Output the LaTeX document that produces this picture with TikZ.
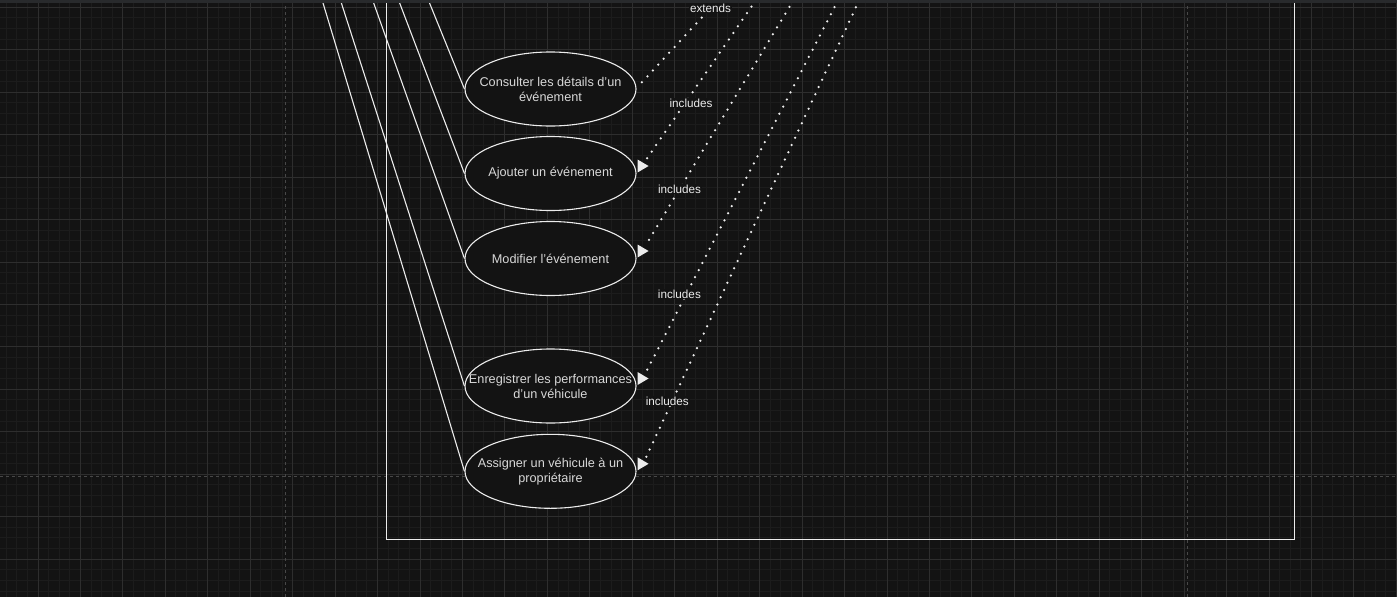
\documentclass[tikz,border=0pt]{standalone}
\usepackage{fontspec}
\setmainfont{Liberation Sans}
\usetikzlibrary{shapes.geometric}
\definecolor{canvas}{RGB}{19,19,19}
\definecolor{gridminor}{RGB}{28,28,28}
\definecolor{gridmajor}{RGB}{46,46,46}
\definecolor{pageline}{RGB}{72,72,72}
\definecolor{ink}{RGB}{236,236,236}
\definecolor{txt}{RGB}{216,216,216}
\definecolor{topbar}{RGB}{40,42,44}

\begin{document}
\begin{tikzpicture}[x=1pt,y=-1pt,
  uc/.style={ellipse,draw=ink,line width=1.1pt,fill=canvas,text=txt,inner sep=-30pt,
    minimum width=171pt,minimum height=74pt,align=center,font=\fontsize{12.7}{15}\selectfont},
  assoc/.style={draw=ink,line width=1.1pt},
  dep/.style={draw=ink,line width=2.5pt,line cap=round,dash pattern=on 0pt off 8pt},
  deplabel/.style={fill=canvas,text=ink,inner sep=1pt,font=\fontsize{11.7}{13}\selectfont}]
  \clip (0,0) rectangle (1397,597);
  % canvas and grid
  \fill[canvas] (0,0) rectangle (1397,597);
  \foreach \i in {0,...,132} \draw[gridminor,line width=1pt] ({-4.45+10.6125*\i},0) -- ++(0,597);
  \foreach \j in {0,...,57}  \draw[gridminor,line width=1pt] (0,{-3.3+10.6125*\j}) -- ++(1397,0);
  \foreach \i in {0,...,33}  \draw[gridmajor,line width=1pt] ({-4.45+42.45*\i},0) -- ++(0,597);
  \foreach \j in {0,...,14}  \draw[gridmajor,line width=1pt] (0,{7.3+42.45*\j}) -- ++(1397,0);
  % page borders
  \draw[pageline,line width=1pt,dash pattern=on 3pt off 3pt] (285.5,0) -- (285.5,597);
  \draw[pageline,line width=1pt,dash pattern=on 3pt off 3pt] (1187.5,0) -- (1187.5,597);
  \draw[pageline,line width=1pt,dash pattern=on 3pt off 3pt] (0,476.5) -- (1397,476.5);
  % system boundary
  \draw[ink,line width=1.3pt] (386.5,-20) rectangle (1294.5,539.5);
  % use cases
  \node[uc] (consulter)   at (550.5,89)    {Consulter les détails d'un\\événement};
  \node[uc] (ajouter)     at (550.5,173.5) {Ajouter un événement};
  \node[uc] (modifier)    at (550.5,258.5) {Modifier l'événement};
  \node[uc] (enregistrer) at (550.5,386)   {Enregistrer les performances\\d'un véhicule};
  \node[uc] (assigner)    at (550.5,471.3) {Assigner un véhicule à un\\propriétaire};
  % associations from the actor (above the view)
  \coordinate (aCons)  at (428.3,0);
  \coordinate (aAjout) at (398.5,0);
  \coordinate (aModif) at (372.6,0);
  \coordinate (aEnreg) at (340.4,0);
  \coordinate (aAssig) at (322.1,0);
  \draw[assoc] (aCons)  -- (consulter.west);
  \draw[assoc] (aAjout) -- (ajouter.west);
  \draw[assoc] (aModif) -- (modifier.west);
  \draw[assoc] (aEnreg) -- (enregistrer.west);
  \draw[assoc] (aAssig) -- (assigner.west);
  % extends / includes
  \coordinate (xCons)  at (718,0);
  \coordinate (iAjout) at (756,0);
  \coordinate (iModif) at (793.6,0);
  \coordinate (iEnreg) at (838.2,0);
  \coordinate (iAssig) at (859.3,0);
  \draw[dep] (xCons) -- node[deplabel,pos=.093] (lblX) {extends} ([shift={(1,-2)}]consulter.east);
  \foreach \top/\uc/\p/\dx/\nm in {iAjout/ajouter/.642/6/lblA, iModif/modifier/.77/0/lblM,
                                    iEnreg/enregistrer/.788/-7/lblE, iAssig/assigner/.875/-5/lblS}
    \draw[dep] (\top) -- node[deplabel,pos=\p,xshift=\dx] (\nm) {includes} ([shift={(9,-13)}]\uc.east);
  \foreach \uc in {ajouter,modifier,enregistrer,assigner}
    \fill[ink] ([shift={(1,-1)}]\uc.east) -- ++(0,-13) -- ++(11,6.5) -- cycle;
  % toolbar edge
  \fill[topbar] (0,0) rectangle (1397,3.3);
\end{tikzpicture}
\end{document}
